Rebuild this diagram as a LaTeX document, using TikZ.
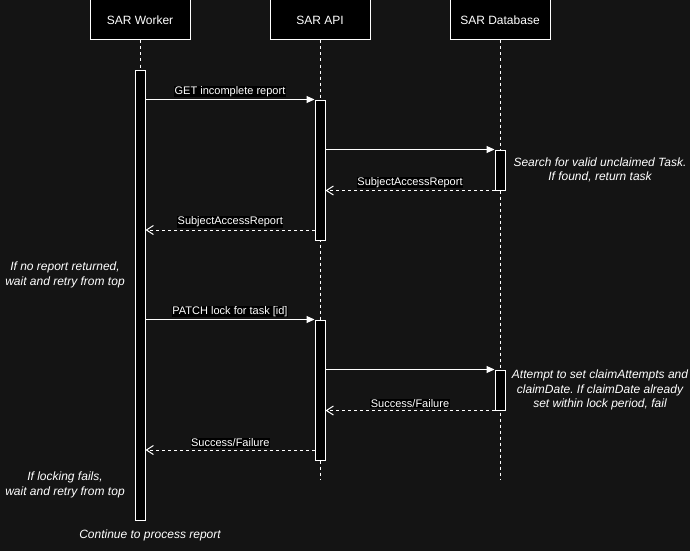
\documentclass[tikz,border=0pt]{standalone}
\usepackage{fontspec}
\setmainfont{Liberation Sans}
\usetikzlibrary{arrows.meta}
\definecolor{canvas}{HTML}{141414}
\frenchspacing

\begin{document}
\begin{tikzpicture}[
  x=1pt, y=-1pt,
  font=\fontsize{12}{15}\selectfont,
  every node/.style={text=white},
  head/.style = {
    rectangle, draw=white, fill=black, line width=1pt,
    minimum width=100pt, minimum height=40pt, inner sep=0pt,
  },
  lifeline/.style = {draw=white, line width=1pt, dash pattern=on 3pt off 3pt},
  activation/.style = {
    rectangle, draw=white, fill=black, line width=1pt,
    minimum width=10pt, inner sep=0pt,
  },
  call/.style = {-{Triangle[length=8pt,width=7pt]}, draw=white, line width=1pt},
  reply/.style = {-{Straight Barb[length=7pt,width=9pt]}, draw=white, line width=1pt,
    dash pattern=on 3pt off 3pt},
  msg/.style = {midway, above=2pt, fill=black, inner sep=0.5pt,
    font=\fontsize{11}{13}\selectfont},
  note/.style = {align=center, font=\fontsize{12}{14.5}\selectfont\itshape},
]
  \fill[canvas] (0,0) rectangle (690,551);
  \useasboundingbox (0,0) rectangle (690,551);

  \node[head] (worker) at (140,20) {SAR Worker};
  \node[head] (api)    at (320,20) {SAR API};
  \node[head] (db)     at (500,20) {SAR Database};

  \coordinate (worker-end) at (140,520);
  \coordinate (api-end)    at (320,480);
  \coordinate (db-end)     at (500,480);
  \draw[lifeline] (worker) -- (worker-end);
  \draw[lifeline] (api) -- (api-end);
  \draw[lifeline] (db) -- (db-end);

  \node[activation, minimum height=450pt] (wact) at (140,295) {};
  \node[activation, minimum height=140pt] (a1)   at (320,170) {};
  \node[activation, minimum height=140pt] (a2)   at (320,390) {};
  \node[activation, minimum height=40pt]  (d1)   at (500,170) {};
  \node[activation, minimum height=40pt]  (d2)   at (500,390) {};

  \coordinate (get-back)  at (315,230);
  \coordinate (lock-back) at (315,450);

  \draw[call]  (wact.east |- a1.north) -- (a1.north west) node[msg] {GET incomplete report};
  \draw[call]  (a1.east |- d1.north) -- (d1.north west);
  \draw[reply] (d1.south west) -- (a1.east |- d1.south) node[msg] {SubjectAccessReport};
  \draw[reply] (get-back) -- (wact.east |- get-back) node[msg] {SubjectAccessReport};

  \draw[call]  (wact.east |- a2.north) -- (a2.north west) node[msg] {PATCH lock for task [id]};
  \draw[call]  (a2.east |- d2.north) -- (d2.north west);
  \draw[reply] (d2.south west) -- (a2.east |- d2.south) node[msg] {Success/Failure};
  \draw[reply] (lock-back) -- (wact.east |- lock-back) node[msg] {Success/Failure};

  \node[note] (search-note)   at (600,170) {Search for valid unclaimed Task.\\If found, return task};
  \node[note] (claim-note)    at (600,390) {Attempt to set claimAttempts and\\claimDate. If claimDate already\\set within lock period, fail};
  \node[note] (retry-note)    at (65,275)  {If no report returned,\\wait and retry from top};
  \node[note] (lock-note)     at (65,485)  {If locking fails,\\wait and retry from top};
  \node[note] (continue-note) at (150,535) {Continue to process report};
\end{tikzpicture}
\end{document}
